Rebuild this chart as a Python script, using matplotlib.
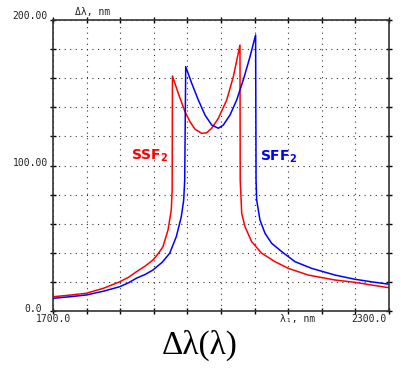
import matplotlib
matplotlib.use("Agg")
import matplotlib.pyplot as plt

# SSF2 (red) curve
ssf_x = [1700, 1730, 1759.5, 1790, 1819.1, 1835, 1848.7, 1865, 1878.6, 1888, 1896.4,
         1905.4, 1911.2, 1912.8, 1913.3,
         1923.7, 1935.7, 1944.6, 1953.6, 1965.5, 1974.5, 1983.4, 1995.2, 2010.2,
         2022.0, 2033.9,
         2034.3, 2037.0, 2042.9, 2054.8, 2072.7, 2096.4, 2120.2, 2155.9, 2203.6,
         2239.3, 2270, 2300]
ssf_y = [9.8, 10.9, 12.2, 15.6, 20.1, 23.2, 26.9, 31.0, 35.1, 39.5, 44.2,
         55.7, 69.4, 83.2, 161.5,
         149.6, 137.0, 130.1, 124.9, 122.1, 122.5, 125.6, 132.4, 145.0,
         161.0, 182.8,
         90.0, 67.1, 57.9, 47.6, 39.7, 33.9, 29.3, 24.7, 21.3,
         19.7, 17.8, 16.0]

# SFF2 (blue) curve
sff_x = [1700, 1730, 1759.5, 1790, 1819.1, 1835, 1848.7, 1865, 1878.6, 1895, 1908.4,
         1920.2, 1929.1, 1933.4, 1935.2, 1937.0,
         1947.7, 1959.5, 1971.4, 1983.4, 1995.2, 2004.1, 2016.1, 2028.0, 2039.8,
         2051.8, 2061.8,
         2062.6, 2063.7, 2069.6, 2078.6, 2090.5, 2108.4, 2132.1, 2161.9, 2203.6,
         2239.3, 2270, 2300]
sff_y = [8.7, 9.8, 11.0, 13.6, 16.7, 19.4, 22.5, 25.2, 28.2, 33.5, 39.7,
         51.1, 64.8, 76.3, 90.0, 167.9,
         156.5, 145.0, 134.7, 127.8, 125.6, 127.8, 134.7, 145.0, 158.8,
         174.8, 189.7,
         90.0, 76.3, 62.5, 53.4, 46.5, 40.8, 33.9, 29.3, 24.7,
         21.8, 20.0, 18.4]

x_min, x_max = 1700, 2300
y_min, y_max = 0, 200
x_grid = list(range(1700, 2301, 60))
y_grid = list(range(0, 201, 20))

fig = plt.figure(figsize=(4.01, 3.69), dpi=100)
ax = fig.add_axes([53 / 401, 58 / 369, 336 / 401, 291 / 369])

ax.plot(ssf_x, ssf_y, color="#ff0000", lw=1.1)
ax.plot(sff_x, sff_y, color="#0000ff", lw=1.1)

ax.set_xlim(x_min, x_max)
ax.set_ylim(y_min, y_max)
ax.set_xticks(x_grid)
ax.set_yticks(y_grid)
ax.tick_params(which="both", direction="inout", length=4, width=1,
               top=True, right=True, labelbottom=False, labelleft=False)
ax.grid(True, color="#333333", linestyle=(0, (1, 4)), linewidth=0.8)
for s in ax.spines.values():
    s.set_color("#333333")
    s.set_linewidth(1.2)

mono = dict(family="DejaVu Sans Mono", fontsize=7, color="#222222")
ax.text(-0.015, 1.013, "200.00", ha="right", va="center", transform=ax.transAxes, **mono)
ax.text(-0.015, 0.51, "100.00", ha="right", va="center", transform=ax.transAxes, **mono)
ax.text(-0.033, 0.007, "0.0", ha="right", va="center", transform=ax.transAxes, **mono)
ax.text(0.0, -0.027, "1700.0", ha="center", va="center", transform=ax.transAxes, **mono)
ax.text(0.993, -0.027, "2300.0", ha="right", va="center", transform=ax.transAxes, **mono)
ax.text(0.729, -0.027, "λ₁, nm", ha="center", va="center", transform=ax.transAxes, **mono)
ax.text(0.119, 1.0275, "Δλ, nm", ha="center", va="center", transform=ax.transAxes, **mono)

ax.text(0.289, 0.535, r"$\mathbf{SSF_2}$", color="#ff0000", fontsize=10,
        ha="center", va="center", transform=ax.transAxes)
ax.text(0.67, 0.53, r"$\mathbf{SFF_2}$", color="#0000ff", fontsize=10,
        ha="center", va="center", transform=ax.transAxes)

fig.text(0.499, 0.063, "Δλ(λ)", family="Liberation Serif", fontsize=24,
         ha="center", va="center")

fig.savefig("out.png", dpi=100)
